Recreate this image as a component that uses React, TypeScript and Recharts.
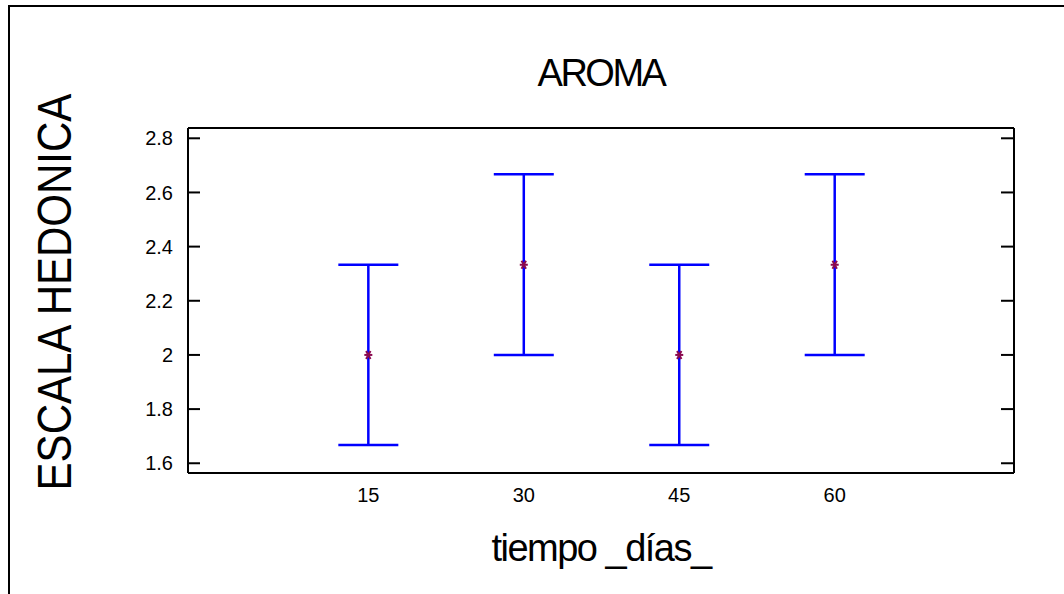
import React from 'react';
import {
  ComposedChart,
  Scatter,
  ErrorBar,
  XAxis,
  YAxis,
} from 'recharts';

// tiempo (días) and hedonic scale means with their interval limits
const days = [15, 30, 45, 60];
const means = [2, 2.333, 2, 2.333];
const lower = [1.667, 2, 1.667, 2];
const upper = [2.333, 2.667, 2.333, 2.667];
const yTicks = [1.6, 1.8, 2, 2.2, 2.4, 2.6, 2.8];

const data = days.map((d, i) => ({
  x: d,
  y: means[i],
  err: [means[i] - lower[i], upper[i] - means[i]],
}));

const FONT = '"Liberation Sans", Arial, sans-serif';
const Y_DOMAIN: [number, number] = [1.564, 2.838];
const X_DOMAIN: [number, number] = [-2.4, 77.3];

const NoLabel = () => <g />;

const MeanMark = (props: any) => {
  const { cx, cy } = props;
  if (cx == null || cy == null) return null;
  const r = 4;
  return (
    <g stroke="#8b0a50" strokeWidth={2}>
      <line x1={cx - r} y1={cy} x2={cx + r} y2={cy} />
      <line x1={cx - r * 0.55} y1={cy - r} x2={cx + r * 0.55} y2={cy + r} />
      <line x1={cx - r * 0.55} y1={cy + r} x2={cx + r * 0.55} y2={cy - r} />
    </g>
  );
};

const axisLine = { stroke: '#000', strokeWidth: 2 };
const tickLine = { stroke: '#000', strokeWidth: 2 };

export default function App() {
  return (
    <div
      style={{
        position: 'absolute',
        left: 0,
        top: 0,
        width: 1064,
        height: 594,
        overflow: 'hidden',
        background: '#fff',
        fontFamily: FONT,
      }}
    >
      <div
        style={{
          position: 'absolute',
          left: 8,
          top: 5,
          width: 1200,
          height: 800,
          borderLeft: '2px solid #000',
          borderTop: '2px solid #000',
        }}
      />
      <ComposedChart
        width={1064}
        height={594}
        data={data}
        margin={{ top: 127, right: 50, bottom: 91, left: 128 }}
        style={{ position: 'absolute', left: 0, top: 0 }}
      >
        <XAxis
          dataKey="x"
          type="number"
          domain={X_DOMAIN}
          ticks={days}
          tickLine={false}
          tickSize={0}
          tickMargin={15}
          height={30}
          axisLine={axisLine}
          tick={{ fontSize: 20, fontFamily: FONT, fill: '#000' }}
        />
        <XAxis
          xAxisId="top"
          orientation="top"
          type="number"
          domain={X_DOMAIN}
          tick={false}
          tickLine={false}
          height={1}
          axisLine={axisLine}
        />
        <YAxis
          type="number"
          domain={Y_DOMAIN}
          ticks={yTicks}
          width={60}
          tickLine={false}
          tickSize={0}
          tickMargin={15}
          axisLine={axisLine}
          tick={{ fontSize: 20, fontFamily: FONT, fill: '#000' }}
        />
        <YAxis
          yAxisId="leftTicks"
          type="number"
          mirror
          domain={Y_DOMAIN}
          ticks={yTicks}
          tickSize={12}
          tickLine={tickLine}
          axisLine={false}
          tick={<NoLabel />}
        />
        <YAxis
          yAxisId="rightTicks"
          orientation="right"
          type="number"
          mirror
          domain={Y_DOMAIN}
          ticks={yTicks}
          tickSize={13}
          tickLine={tickLine}
          axisLine={axisLine}
          tick={<NoLabel />}
        />
        {/* invisible series so the tick-only axes get a scale */}
        <Scatter yAxisId="leftTicks" dataKey="y" isAnimationActive={false} shape={<NoLabel />} legendType="none" />
        <Scatter yAxisId="rightTicks" dataKey="y" isAnimationActive={false} shape={<NoLabel />} legendType="none" />
        <Scatter dataKey="y" isAnimationActive={false} shape={<MeanMark />}>
          <ErrorBar dataKey="err" direction="y" width={30} stroke="#0000ff" strokeWidth={2.5} />
        </Scatter>
      </ComposedChart>
      <div
        style={{
          position: 'absolute',
          left: 601,
          top: 73,
          transform: 'translate(-50%, -50%)',
          whiteSpace: 'nowrap',
          fontSize: 38,
          letterSpacing: -2.5,
          lineHeight: '46px',
          color: '#000',
        }}
      >
        AROMA
      </div>
      <div
        style={{
          position: 'absolute',
          left: 55,
          top: 292,
          transform: 'translate(-50%, -50%) rotate(-90deg) scaleY(1.15)',
          whiteSpace: 'nowrap',
          fontSize: 42,
          letterSpacing: 0,
          lineHeight: '46px',
          color: '#000',
        }}
      >
        ESCALA HEDONICA
      </div>
      <div
        style={{
          position: 'absolute',
          left: 601,
          top: 548,
          transform: 'translate(-50%, -50%)',
          whiteSpace: 'nowrap',
          fontSize: 38,
          letterSpacing: -1.5,
          lineHeight: '46px',
          color: '#000',
        }}
      >
        tiempo _días_
      </div>
    </div>
  );
}
